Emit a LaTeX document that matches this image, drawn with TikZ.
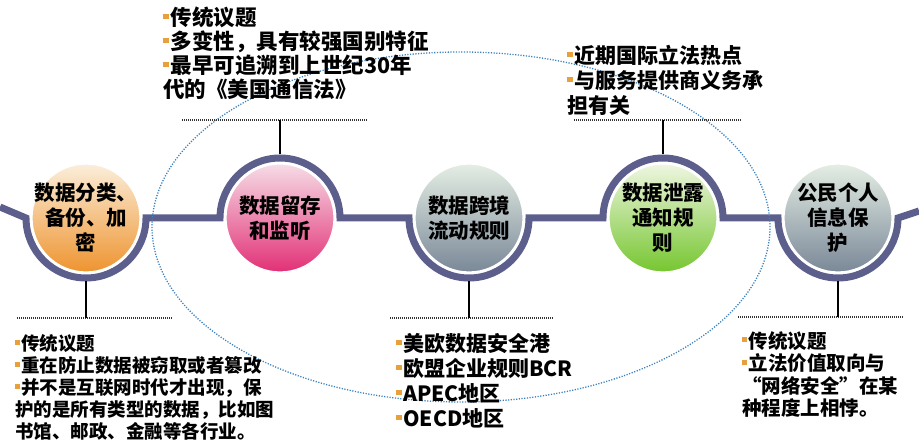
\documentclass[tikz,border=0pt]{standalone}
\usepackage{fontspec}
\setmainfont{Noto Sans CJK SC}[BoldFont={Noto Sans CJK SC Black}]
\definecolor{ringblue}{RGB}{92,94,140}
\definecolor{dotblue}{RGB}{60,130,190}
\definecolor{bulorange}{RGB}{232,160,60}
\definecolor{sepgray}{RGB}{50,50,50}
\newcommand{\bul}{\textcolor{bulorange}{\rule[0.3em]{0.26em}{0.26em}}\hspace{0.08em}}
\tikzset{
  ball/.style={circle,minimum size=108pt,inner sep=0pt,draw=white,line width=1.2pt},
  orangeball/.style={top color={rgb,255:red,251;green,238;blue,218},middle color={rgb,255:red,246;green,196;blue,130},bottom color={rgb,255:red,238;green,148;blue,48}},
  pinkball/.style={top color={rgb,255:red,246;green,220;blue,230},middle color={rgb,255:red,240;green,160;blue,195},bottom color={rgb,255:red,226;green,48;blue,118}},
  grayball/.style={top color={rgb,255:red,228;green,238;blue,228},middle color={rgb,255:red,176;green,186;blue,192},bottom color={rgb,255:red,122;green,136;blue,152}},
  greenball/.style={top color={rgb,255:red,238;green,246;blue,224},middle color={rgb,255:red,188;green,228;blue,140},bottom color={rgb,255:red,118;green,198;blue,48}},
  topiclabel/.style={align=center,inner sep=0pt,font=\bfseries\fontsize{20.5}{25}\selectfont},
  ring/.style={draw=ringblue,line width=7pt},
  stem/.style={draw=black,line width=1.8pt},
  sep/.style={draw=sepgray,line width=1.1pt,dash pattern=on 1pt off 1pt},
  note/.style={anchor=north west,inner sep=0pt,align=left},
}
\begin{document}
\begin{tikzpicture}[x=1pt,y=1pt]
\useasboundingbox (0,0) rectangle (919,445);
% circles
\foreach \n/\x/\col in {fenlei/86/orangeball,liucun/280/pinkball,kuajing/469/grayball,xielu/663/greenball,geren/838/grayball}
  \node[ball,\col] (\n) at (\x,227) {};
% main line with rings
\draw[ring] (0,238) -- ([xshift=-60pt]fenlei.center) arc[start angle=180,end angle=360,radius=60pt]
  -- ([xshift=-60pt]liucun.center) arc[start angle=180,end angle=0,radius=60pt]
  -- ([xshift=-60pt]kuajing.center) arc[start angle=180,end angle=360,radius=60pt]
  -- ([xshift=-60pt]xielu.center) arc[start angle=180,end angle=0,radius=60pt]
  -- ([xshift=-60pt]geren.center) arc[start angle=180,end angle=360,radius=60pt] -- (919,234);
\draw[dotblue,line width=1.3pt,dash pattern=on 1.2pt off 1.5pt] (461,218) ellipse [x radius=309,y radius=175];
% separators and stems
\foreach \n/\ya/\xa/\xb/\d in {fenlei/127/17/173/-1,liucun/325/182/368/1,kuajing/127/390/554/-1,xielu/325/574/742/1,geren/128/738/903/-1}{
  \coordinate (sep\n) at (\xa,\ya);
  \draw[sep] (sep\n) -- (\xb,\ya);
  \draw[stem] ([yshift=\d*63.5pt]\n.center) -- (\n |- sep\n);
}
\foreach \n/\lbl in {fenlei/{数据分类、\\备份、加\\密},liucun/{数据留存\\和监听},kuajing/{数据跨境\\流动规则},xielu/{数据泄露\\通知规\\则},geren/{公民个人\\信息保\\护}}
  \node[topiclabel] (\n-t) at (\n) {\lbl};
% notes
\node[note,font=\bfseries\fontsize{21.5}{24}\selectfont] (liucun-n) at (163,438)
  {\bul 传统议题\\\bul 多变性，具有较强国别特征\\\bul 最早可追溯到上世纪30年\\代的《美国通信法》};
\node[note,font=\bfseries\fontsize{21}{25}\selectfont] (xielu-n) at (567,400)
  {\bul 近期国际立法热点\\\bul 与服务提供商义务承\\担有关};
\node[note,font=\bfseries\fontsize{18.5}{22}\selectfont] (fenlei-n) at (15,111)
  {\bul 传统议题\\\bul 重在防止数据被窃取或者篡改\\\bul 并不是互联网时代才出现，保\\护的是所有类型的数据，比如图\\书馆、邮政、金融等各行业。};
\node[note,font=\bfseries\fontsize{21}{25}\selectfont] (kuajing-n) at (396,112)
  {\bul 美欧数据安全港\\\bul 欧盟企业规则BCR\\\bul APEC地区\\\bul OECD地区};
\node[note,font=\bfseries\fontsize{19.5}{22.5}\selectfont] (geren-n) at (742,114)
  {\bul 传统议题\\\bul 立法价值取向与\\“网络安全”在某\\种程度上相悖。};
\end{tikzpicture}
\end{document}
